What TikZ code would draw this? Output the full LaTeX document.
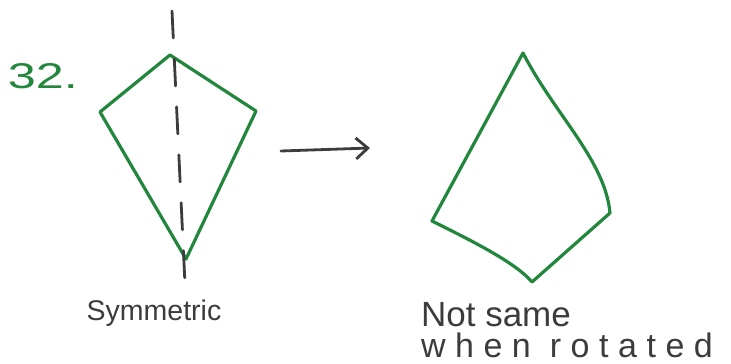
\documentclass[tikz,border=0pt]{standalone}
\usepackage{fontspec}
\setmainfont{Liberation Sans}
\usetikzlibrary{arrows.meta}
\definecolor{pen}{RGB}{34,135,60}
\definecolor{pencil}{RGB}{60,60,60}
\tikzset{
  shapeline/.style={draw=pen, line width=3.2pt, line join=round, line cap=round},
  axisline/.style={draw=pencil, line width=2.8pt, line cap=round, dash pattern=on 27pt off 21pt},
  hand/.style={text=pencil, inner sep=0pt, anchor=base},
  arrowline/.style={draw=pencil, line width=2.8pt, line cap=round, -{Straight Barb[length=12pt,width=21pt,line width=2.8pt]}}
}
\begin{document}
\begin{tikzpicture}[x=1pt,y=-1pt]
\useasboundingbox (0,0) rectangle (731,364);
% left kite
\coordinate (kt) at (170,55);
\coordinate (kl) at (100,112);
\coordinate (kr) at (256,111);
\coordinate (kb) at (186,259);
\draw[shapeline] (kt) -- (kr) -- (kb) -- (kl) -- cycle;
% axis of symmetry
\coordinate (at) at (172,11);
\coordinate (ab) at (185,284);
\draw[axisline] (at) -- (ab);
% arrow
\coordinate (ra) at (281,151);
\coordinate (rb) at (370,148);
\draw[arrowline] (ra) -- (rb);
% right shape
\coordinate (pt) at (523,53);
\coordinate (pl) at (432,221);
\coordinate (pb) at (532,282);
\coordinate (pr) at (610,213);
\draw[shapeline] (pt) .. controls (555,115) and (605,160) .. (pr)
  -- (pb) .. controls (515,262) and (470,240) .. (pl)
  -- cycle;
% texts
\node[hand, text=pen] (num) at (43,88) {\resizebox{70pt}{25pt}{32.}};
\node[hand, font=\fontsize{28.5}{30}\selectfont] (sym) at (154,320) {Symmetric};
\node[hand, font=\fontsize{35}{38}\selectfont] (ns) at (496,326) {Not same};
\node[hand, font=\fontsize{34}{38}\selectfont\addfontfeatures{LetterSpace=28}] (wr) at (567,357) {when rotated};
\end{tikzpicture}
\end{document}
